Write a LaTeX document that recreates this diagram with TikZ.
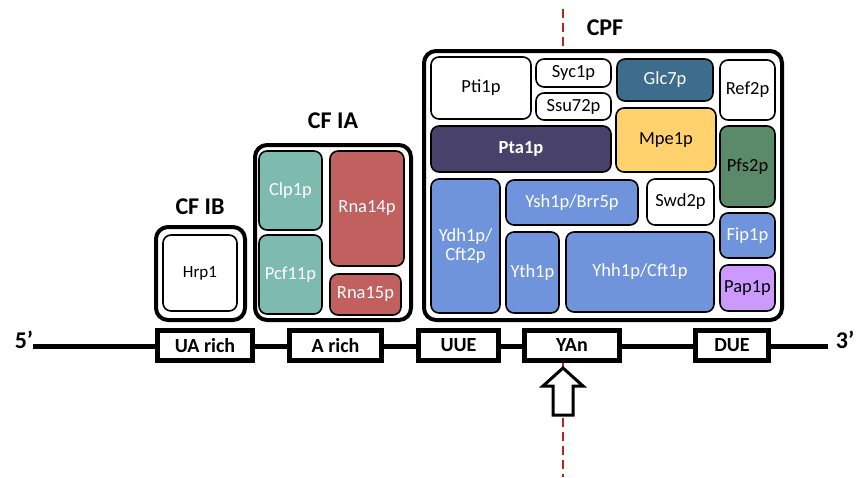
\documentclass[tikz,border=0pt]{standalone}
\usepackage{fontspec}
\setmainfont{Carlito}
\definecolor{cteal}{RGB}{125,186,176}
\definecolor{cred}{RGB}{192,96,95}
\definecolor{cpurple}{RGB}{72,66,107}
\definecolor{csteel}{RGB}{62,108,140}
\definecolor{cyellow}{RGB}{255,210,110}
\definecolor{cgreen}{RGB}{91,138,106}
\definecolor{cblue}{RGB}{112,148,220}
\definecolor{clav}{RGB}{204,153,255}
\definecolor{cdash}{RGB}{180,40,25}
\tikzset{
 pbox/.style={draw=black, line width=1.6pt, rounded corners=8pt, align=center, inner sep=0pt, font=\fontsize{18.5}{19}\selectfont},
 wbox/.style={pbox, fill=white, text=black},
 grp/.style={draw=black, line width=4pt, rounded corners=12pt, fill=white, inner sep=0pt},
 elem/.style={draw=black, line width=5pt, fill=white, inner sep=0pt, font=\bfseries\fontsize{20}{22}\selectfont},
 ttl/.style={font=\bfseries\fontsize{24}{26}\selectfont, inner sep=0pt},
 rna/.style={line width=5pt},
 cutline/.style={draw=cdash, line width=1.8pt, dash pattern=on 9pt off 5pt},
}
\newcommand\bx[7]{\node[#6, minimum width={(#4-#2)*1pt}, minimum height={(#5-#3)*1pt}] (#1) at ({(#2+#4)/2},{(#3+#5)/2}) {#7};}
\begin{document}
\begin{tikzpicture}[x=1pt,y=-1pt]
\useasboundingbox[fill=white] (0,0) rectangle (856,477);
% cleavage site dashed line
\coordinate (dtop) at (563,9);
\coordinate (dmid) at (563,50);
\coordinate (dlow) at (563,362);
\coordinate (dbot) at (563,477);
\draw[cutline] (dtop) -- (dmid);
\draw[cutline] (dlow) -- (dbot);
% RNA line
\coordinate (l5) at (33,346);
\coordinate (l3) at (828,346);
\draw[rna] (l5) -- (l3);
% groups
\bx{cfib}{156}{227}{245}{320}{grp}{}
\bx{cfia}{255}{145}{411}{320}{grp}{}
\bx{cpf}{424}{51}{782}{320}{grp}{}
\node[ttl] (tcfib) at (200,207) {CF IB};
\node[ttl] (tcfia) at (333,121) {CF IA};
\node[ttl] (tcpf) at (605,28) {CPF};
% CF IB
\bx{hrp}{163}{235}{237}{311}{wbox, font=\fontsize{17}{18}\selectfont}{Hrp1}
% CF IA
\bx{clp}{259}{151}{322}{230}{pbox, fill=cteal, text=white}{Clp1p}
\bx{pcf}{259}{235}{322}{314}{pbox, fill=cteal, text=white}{Pcf11p}
\bx{rna14}{330}{151}{404}{266}{pbox, fill=cred, text=white}{Rna14p}
\bx{rna15}{330}{274}{401}{315}{pbox, fill=cred, text=white}{Rna15p}
% CPF
\bx{pti}{431}{57}{531}{119}{wbox}{Pti1p}
\bx{syc}{536}{59}{611}{87}{wbox}{Syc1p}
\bx{ssu}{536}{93}{611}{120}{wbox}{Ssu72p}
\bx{pta}{431}{126}{611}{172}{pbox, fill=cpurple, text=white, font=\bfseries\fontsize{18.5}{19}\selectfont}{Pta1p}
\bx{glc}{617}{59}{713}{101}{pbox, fill=csteel, text=white}{Glc7p}
\bx{ref}{720}{60}{775}{120}{wbox}{Ref2p}
\bx{mpe}{616}{108}{716}{172}{pbox, fill=cyellow, text=black}{Mpe1p}
\bx{pfs}{720}{126}{775}{207}{pbox, fill=cgreen, text=black}{Pfs2p}
\bx{swd}{647}{179}{714}{225}{wbox}{Swd2p}
\bx{fip}{720}{213}{775}{258}{pbox, fill=cblue, text=white}{Fip1p}
\bx{pap}{720}{265}{775}{311}{pbox, fill=clav, text=black}{Pap1p}
\bx{ydh}{431}{179}{500}{313}{pbox, fill=cblue, text=white}{Ydh1p/\\Cft2p}
\bx{ysh}{506}{180}{638}{225}{pbox, fill=cblue, text=white}{Ysh1p/Brr5p}
\bx{yth}{506}{232}{559}{313}{pbox, fill=cblue, text=white}{Yth1p}
\bx{yhh}{566}{232}{714}{312}{pbox, fill=cblue, text=white}{Yhh1p/Cft1p}
% sequence elements
\bx{ua}{157.5}{330.5}{252.5}{360.5}{elem}{UA rich}
\bx{ar}{289.5}{330.5}{381.5}{360.5}{elem}{A rich}
\bx{uue}{418.5}{330.5}{498.5}{360.5}{elem}{UUE}
\bx{yan}{524.5}{330.5}{619.5}{360.5}{elem}{YAn}
\bx{due}{695.5}{330.5}{768.5}{360.5}{elem}{DUE}
\node[ttl] (p5) at (24,340) {5’};
\node[ttl] (p3) at (845,340) {3’};
% cleavage arrow
\draw[line width=3pt, fill=white, line join=miter] (563,368) -- (583,386) -- (573,386) -- (573,415) -- (553,415) -- (553,386) -- (543,386) -- cycle;
\end{tikzpicture}
\end{document}
